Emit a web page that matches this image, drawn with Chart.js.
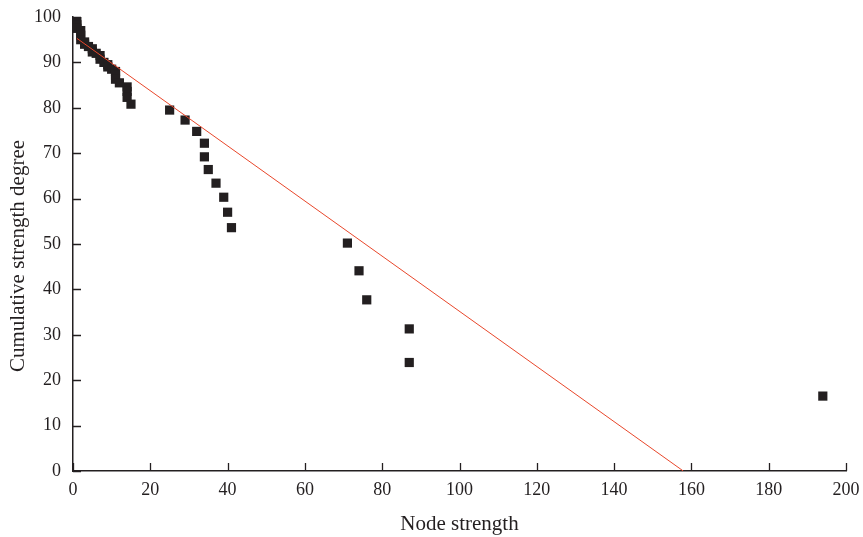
<!DOCTYPE html>
<html>
<head>
<meta charset="utf-8">
<script src="https://cdn.jsdelivr.net/npm/chart.js@4/dist/chart.umd.min.js"></script>
<style>
  html, body { margin: 0; padding: 0; background: #fff; }
  #wrap { width: 863px; height: 537px; }
</style>
</head>
<body>
<div id="wrap"><canvas id="chart" width="863" height="537"></canvas></div>
<script>
// node strength vs cumulative strength degree
const nodeStrength = [1, 1, 1, 2, 2, 2, 3, 3, 4, 5, 5, 6, 7, 7, 8, 9, 9, 10, 11, 11, 11, 12, 14, 14, 14, 15,
  25, 29, 32, 34, 34, 35, 37, 39, 40, 41, 71, 74, 76, 87, 87, 194];
const cumDegree = [99, 98.3, 97.5, 97, 96, 95, 94.5, 94, 93.5, 93, 92.3, 92, 91.5, 90.7, 90, 89.5, 89, 88.5, 88, 87.2, 86.3, 85.5, 84.6, 83.6, 82.3, 80.8,
  79.5, 77.3, 74.8, 72.2, 69.2, 66.4, 63.4, 60.3, 57, 53.6, 50.2, 44.1, 37.7, 31.3, 23.9, 16.5];

// fitted line end points
const fitX = [1, 157.9];
const fitY = [95.3, 0];

const xTicks = [0, 20, 40, 60, 80, 100, 120, 140, 160, 180, 200];
const yTicks = [0, 10, 20, 30, 40, 50, 60, 70, 80, 90, 100];

const axisColor = "#231f20";
const fontFamily = "'Liberation Serif', 'Times New Roman', serif";
const yTitle = "Cumulative strength degree";

// ticks point inward, so draw them by hand; y title sits a bit below the middle
const innerTicks = {
  id: "innerTicks",
  afterDraw(chart) {
    const ctx = chart.ctx;
    const xs = chart.scales.x, ys = chart.scales.y;
    ctx.save();
    ctx.strokeStyle = axisColor;
    ctx.lineWidth = 1.3;
    ctx.beginPath();
    xTicks.forEach(v => {
      const px = Math.round(xs.getPixelForValue(v)) + 0.5;
      ctx.moveTo(px, ys.bottom);
      ctx.lineTo(px, ys.bottom - 8);
    });
    yTicks.forEach(v => {
      const py = Math.round(ys.getPixelForValue(v)) + 0.5;
      ctx.moveTo(xs.left, py);
      ctx.lineTo(xs.left + 8, py);
    });
    ctx.stroke();

    ctx.translate(18, 256);
    ctx.rotate(-Math.PI / 2);
    ctx.fillStyle = axisColor;
    ctx.font = "21px " + fontFamily;
    ctx.textAlign = "center";
    ctx.textBaseline = "middle";
    ctx.fillText(yTitle, 0, 0);
    ctx.restore();
  }
};

new Chart(document.getElementById("chart").getContext("2d"), {
  type: "scatter",
  data: {
    datasets: [
      {
        label: "data",
        data: nodeStrength.map((x, i) => ({ x: x, y: cumDegree[i] })),
        pointStyle: "rect",
        pointRadius: 6.5,
        pointHoverRadius: 6.5,
        backgroundColor: axisColor,
        borderColor: axisColor,
        borderWidth: 0,
        order: 2
      },
      {
        label: "fit",
        type: "line",
        data: fitX.map((x, i) => ({ x: x, y: fitY[i] })),
        borderColor: "#e8472b",
        borderWidth: 1,
        pointRadius: 0,
        fill: false,
        order: 1
      }
    ]
  },
  options: {
    responsive: false,
    animation: false,
    layout: { padding: { left: 0, right: 17, top: 17, bottom: 0 } },
    plugins: {
      legend: { display: false },
      tooltip: { enabled: false }
    },
    scales: {
      x: {
        type: "linear",
        min: 0,
        max: 200,
        afterBuildTicks: s => { s.ticks = xTicks.map(v => ({ value: v })); },
        afterFit: s => { s.height = 66; s.paddingLeft = 0; s.paddingRight = 0; },
        grid: { display: true, drawOnChartArea: false, drawTicks: false },
        border: { color: axisColor, width: 1.5 },
        ticks: { color: axisColor, padding: 8, font: { family: fontFamily, size: 18 } },
        title: {
          display: true,
          text: "Node strength",
          color: axisColor,
          padding: { top: 4, bottom: 0 },
          font: { family: fontFamily, size: 21 }
        }
      },
      y: {
        type: "linear",
        min: 0,
        max: 100,
        afterBuildTicks: s => { s.ticks = yTicks.map(v => ({ value: v })); },
        afterFit: s => { s.width = 73; s.paddingTop = 0; s.paddingBottom = 0; },
        grid: { display: true, drawOnChartArea: false, drawTicks: false },
        border: { color: axisColor, width: 1.5 },
        ticks: { color: axisColor, padding: 12, font: { family: fontFamily, size: 18 } },
        title: { display: false }
      }
    }
  },
  plugins: [innerTicks]
});
</script>
</body>
</html>
